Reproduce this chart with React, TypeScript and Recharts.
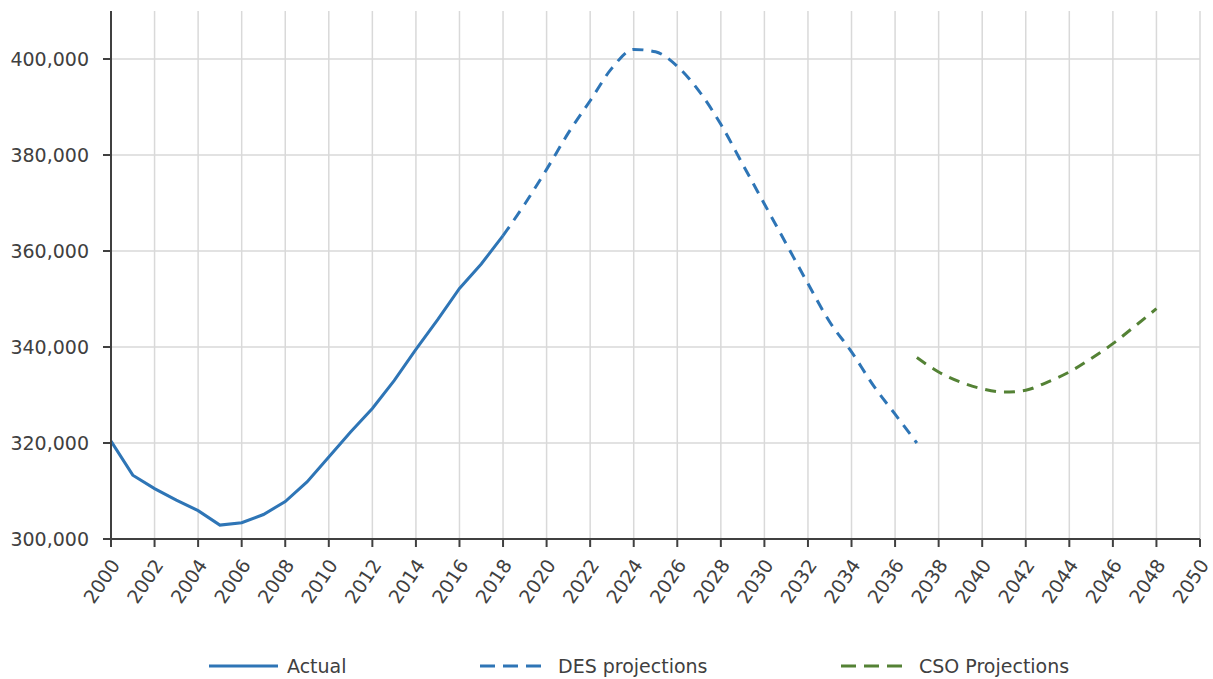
import React from 'react';
import { LineChart, Line, XAxis, YAxis, CartesianGrid, Legend, ReferenceLine } from 'recharts';

const actualYears = [2000, 2001, 2002, 2003, 2004, 2005, 2006, 2007, 2008, 2009, 2010, 2011, 2012, 2013, 2014, 2015, 2016, 2017, 2018];
const actualValues = [320400, 313300, 310500, 308100, 305900, 302900, 303400, 305100, 307800, 311900, 317100, 322300, 327200, 333000, 339500, 345700, 352200, 357300, 363200];

const desYears = [2018, 2019, 2020, 2021, 2022, 2023, 2024, 2025, 2026, 2027, 2028, 2029, 2030, 2031, 2032, 2033, 2034, 2035, 2036, 2037];
const desValues = [363200, 369800, 377000, 384600, 391300, 398100, 402000, 401500, 398500, 393300, 386400, 378100, 369800, 361500, 353200, 345200, 339000, 332000, 326000, 320000];

const csoYears = [2037, 2038, 2039, 2040, 2041, 2042, 2043, 2044, 2045, 2046, 2047, 2048];
const csoValues = [337800, 334800, 332700, 331300, 330600, 331000, 332700, 334800, 337600, 340700, 344300, 348000];

const xTicks = [2000, 2002, 2004, 2006, 2008, 2010, 2012, 2014, 2016, 2018, 2020, 2022, 2024, 2026, 2028, 2030, 2032, 2034, 2036, 2038, 2040, 2042, 2044, 2046, 2048, 2050];
const gridYears = [2000, 2001, 2002, 2003, 2004, 2005, 2006, 2007, 2008, 2009, 2010, 2011, 2012, 2013, 2014, 2015, 2016, 2017, 2018, 2019, 2020, 2021, 2022, 2023, 2024, 2025, 2026, 2027, 2028, 2029, 2030, 2031, 2032, 2033, 2034, 2035, 2036, 2037, 2038, 2039, 2040, 2041, 2042, 2043, 2044, 2045, 2046, 2047, 2048, 2049, 2050];
const yTicks = [300000, 320000, 340000, 360000, 380000, 400000];

const seriesLabels = ['Actual', 'DES projections', 'CSO Projections'];

const BLUE = '#2E75B6';
const GREEN = '#548235';
const TEXT = '#404040';
const GRID = '#D9D9D9';
const FONT = '"DejaVu Sans", sans-serif';

const allYears = Array.from(new Set([...actualYears, ...desYears, ...csoYears])).sort((a, b) => a - b);
const data = allYears.map((yr) => {
  const row: any = { year: yr };
  const ai = actualYears.indexOf(yr);
  if (ai >= 0) row.actual = actualValues[ai];
  const di = desYears.indexOf(yr);
  if (di >= 0) row.des = desValues[di];
  const ci = csoYears.indexOf(yr);
  if (ci >= 0) row.cso = csoValues[ci];
  return row;
});

const XTick = (props: any) => {
  const { x, y, payload } = props;
  return (
    <g transform={`translate(${x + 4},${y + 12})`}>
      <text
        textAnchor="end"
        dominantBaseline="central"
        transform="rotate(-56)"
        fill={TEXT}
        fontSize={19}
        fontFamily={FONT}
      >
        {payload.value}
      </text>
    </g>
  );
};

const legendDefs = [
  { label: seriesLabels[0], color: BLUE, dash: undefined as string | undefined, left: 209, w: 69, gap: 9 },
  { label: seriesLabels[1], color: BLUE, dash: '15 8', left: 480, w: 61, gap: 17 },
  { label: seriesLabels[2], color: GREEN, dash: '15 8', left: 841, w: 61, gap: 17 },
];

const LegendContent = () => (
  <div style={{ position: 'relative', width: 1213, height: 40, fontFamily: FONT, fontSize: 19, color: TEXT }}>
    {legendDefs.map((d) => (
      <div
        key={d.label}
        style={{ position: 'absolute', left: d.left, top: 16, height: 22, display: 'flex', alignItems: 'center', whiteSpace: 'nowrap' }}
      >
        <svg width={d.w} height={10} style={{ marginRight: d.gap }}>
          <line x1={0} y1={5} x2={d.w} y2={5} stroke={d.color} strokeWidth={3} strokeDasharray={d.dash} />
        </svg>
        <span>{d.label}</span>
      </div>
    ))}
  </div>
);

export default function App() {
  return (
    <div style={{ position: 'absolute', left: 0, top: 0, background: '#fff' }}>
      <LineChart width={1213} height={679} data={data} margin={{ top: 11, right: 13, bottom: 0, left: 0 }}>
        <XAxis xAxisId="grid" dataKey="year" type="number" domain={[2000, 2050]} ticks={gridYears} hide />
        <CartesianGrid xAxisId="grid" stroke={GRID} strokeWidth={1.5} horizontal={false} />
        {yTicks.map((t) => (
          <ReferenceLine key={t} y={t} stroke={GRID} strokeWidth={1.5} ifOverflow="hidden" />
        ))}
        <XAxis
          dataKey="year"
          type="number"
          domain={[2000, 2050]}
          ticks={xTicks}
          interval={0}
          height={100}
          tick={<XTick />}
          tickSize={8}
          axisLine={{ stroke: TEXT, strokeWidth: 2 }}
          tickLine={{ stroke: TEXT, strokeWidth: 2 }}
        />
        <YAxis
          type="number"
          domain={[300000, 410000]}
          ticks={yTicks}
          width={111}
          tickSize={8}
          tickMargin={14}
          tickFormatter={(v: number) => v.toLocaleString('en-US')}
          tick={{ fill: TEXT, fontSize: 19, fontFamily: FONT }}
          axisLine={{ stroke: TEXT, strokeWidth: 2 }}
          tickLine={{ stroke: TEXT, strokeWidth: 2 }}
          allowDataOverflow
        />
        <Legend verticalAlign="bottom" content={<LegendContent />} wrapperStyle={{ left: 0, width: 1213 }} />
        <Line dataKey="actual" name={seriesLabels[0]} type="linear" stroke={BLUE} strokeWidth={3} dot={false} activeDot={false} isAnimationActive={false} connectNulls={false} />
        <Line dataKey="des" name={seriesLabels[1]} type="monotone" stroke={BLUE} strokeWidth={3} strokeDasharray="11 8" dot={false} activeDot={false} isAnimationActive={false} connectNulls={false} />
        <Line dataKey="cso" name={seriesLabels[2]} type="monotone" stroke={GREEN} strokeWidth={3} strokeDasharray="11 8" dot={false} activeDot={false} isAnimationActive={false} connectNulls={false} />
      </LineChart>
    </div>
  );
}
